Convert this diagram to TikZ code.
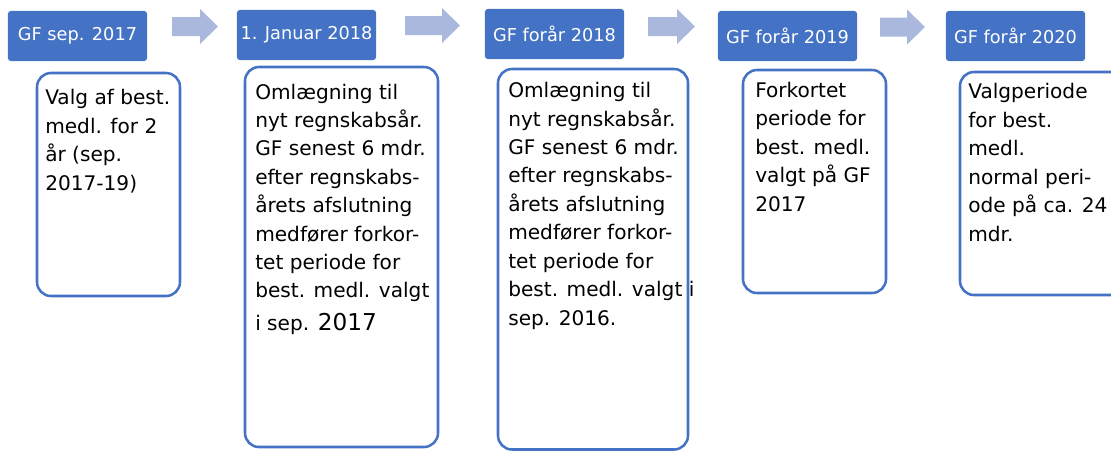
\documentclass[tikz,border=0pt]{standalone}
\usepackage{fontspec}
\setmainfont{DejaVu Sans}
\definecolor{gfblue}{HTML}{4472C4}
\definecolor{gfarrow}{HTML}{AAB8DE}
\tikzset{
  gfhead/.style={fill=gfblue, text=white, rounded corners=2pt, inner sep=0pt,
    minimum width=3.475cm, minimum height=1.25cm, font=\fontsize{12.6}{15}\selectfont},
  gfbox/.style={draw=gfblue, line width=1.8pt, rounded corners=0.35cm},
  gftext/.style={anchor=base west, align=left, inner sep=0pt,
    font=\fontsize{14.3}{20.2}\selectfont},
}
\begin{document}
\begin{tikzpicture}[x=0.025cm, y=-0.025cm]
  \clip (0,0) rectangle (1111,450);
  % headers
  \node[gfhead] (h1) at (77.5, 36) {GF sep. 2017};
  \node[gfhead] (h2) at (306.5, 35) {1. Januar 2018};
  \node[gfhead] (h3) at (554.5, 34) {GF forår 2018};
  \node[gfhead] (h4) at (787.5, 36) {GF forår 2019};
  \node[gfhead] (h5) at (1015.5, 36) {GF forår 2020};

  % arrows between headers
  \foreach \a/\b/\y in {172/218/26.5, 405/460/25.5, 648/695/26.5, 880/925/27}
    \fill[gfarrow] (\a, \y-9.5) -- (\b-18, \y-9.5) -- (\b-18, \y-17.5) -- (\b, \y)
      -- (\b-18, \y+17.5) -- (\b-18, \y+9.5) -- (\a, \y+9.5) -- cycle;

  % boxes
  \draw[gfbox] (37, 73) rectangle (180, 296);
  \draw[gfbox] (245, 67) rectangle (438, 447);
  \draw[gfbox] (498, 69) rectangle (688, 449.5);
  \draw[gfbox] (743, 70) rectangle (886, 293);
  \draw[gfbox] (960, 72) rectangle (1125, 295);

  % texts (anchored at the last baseline)
  \node[gftext] (t1) at (45, 190) {Valg af best.\\medl. for 2\\år (sep.\\2017-19)};
  \node[gftext] (t2) at (255, 330) {Omlægning til\\nyt regnskabsår.\\GF senest 6 mdr.\\efter regnskabs-\\årets afslutning\\medfører forkor-\\tet periode for\\best. medl. valgt\\[2.6pt]i sep. {\fontsize{16.5}{20}\selectfont 2017}};
  \node[gftext] (t3) at (508, 325) {Omlægning til\\nyt regnskabsår.\\GF senest 6 mdr.\\efter regnskabs-\\årets afslutning\\medfører forkor-\\tet periode for\\best. medl. valgt i\\sep. 2016.};
  \node[gftext] (t4) at (755, 211) {Forkortet\\periode for\\best. medl.\\valgt på GF\\2017};
  \node[gftext] (t5) at (968, 241) {Valgperiode\\for best.\\medl.\\normal peri-\\ode på ca. 24\\mdr.};
\end{tikzpicture}
\end{document}
